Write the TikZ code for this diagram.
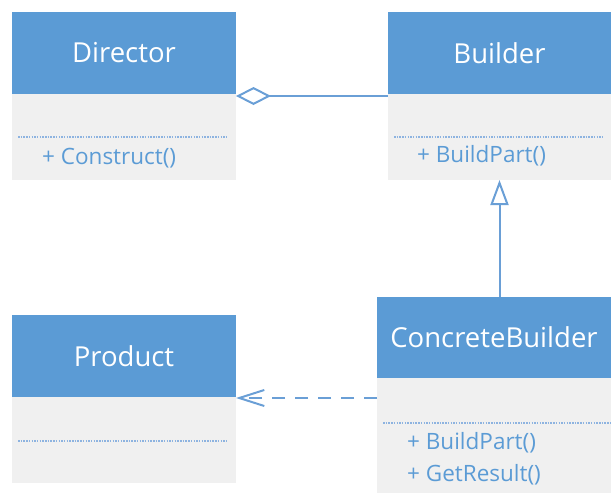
\documentclass[tikz,border=0pt]{standalone}
\usepackage{fontspec}
\setmainfont{Open Sans}
\usetikzlibrary{arrows.meta}
\definecolor{hdrblue}{HTML}{5B9BD5}
\definecolor{bodygray}{HTML}{F0F0F0}
\definecolor{lineblue}{HTML}{6A9FD6}
\definecolor{dotblue}{HTML}{8DB3E0}
\begin{document}
\begin{tikzpicture}[x=1pt,y=-1pt,
  hdr/.style={fill=hdrblue, text=white, inner sep=0pt, outer sep=0pt, anchor=north west, font=\fontsize{27.5}{32}\selectfont},
  bodyb/.style={fill=bodygray, inner sep=0pt, outer sep=0pt, anchor=north west},
  meth/.style={text=hdrblue, inner sep=0pt, anchor=west, font=\fontsize{22.5}{26}\selectfont},
  sep/.style={draw=dotblue, line width=1.5pt, dash pattern=on 1.5pt off 1.2pt},
  conn/.style={draw=lineblue, line width=2pt},
]
\useasboundingbox (0,0) rectangle (611,493);
% Director
\node[hdr, minimum width=224pt, minimum height=82pt] (dirH) at (12,12) {Director};
\node[bodyb, minimum width=224pt, minimum height=86pt] (dirB) at (dirH.south west) {};
\draw[sep] ([xshift=6pt,yshift=-43pt]dirB.north west) -- ([xshift=-8pt,yshift=-43pt]dirB.north east);
\node[meth] (dirM) at (42,158) {+ Construct()};
% Builder
\node[hdr, minimum width=223pt, minimum height=82pt] (bldH) at (388,12) {Builder};
\node[bodyb, minimum width=223pt, minimum height=86pt] (bldB) at (bldH.south west) {};
\draw[sep] ([xshift=6pt,yshift=-43pt]bldB.north west) -- ([xshift=-8pt,yshift=-43pt]bldB.north east);
\node[meth] (bldM) at (417,156) {+ BuildPart()};
% Product
\node[hdr, minimum width=224pt, minimum height=82pt] (prdH) at (12,315) {Product};
\node[bodyb, minimum width=224pt, minimum height=86pt] (prdB) at (prdH.south west) {};
\draw[sep] ([xshift=6pt,yshift=-44pt]prdB.north west) -- ([xshift=-8pt,yshift=-44pt]prdB.north east);
% ConcreteBuilder
\node[hdr, minimum width=234pt, minimum height=81pt] (cbH) at (377,297) {ConcreteBuilder};
\node[bodyb, minimum width=234pt, minimum height=115pt] (cbB) at (cbH.south west) {};
\draw[sep] ([xshift=6pt,yshift=-45pt]cbB.north west) -- ([yshift=-45pt]cbB.north east);
\node[meth] (cbM1) at (407,443) {+ BuildPart()};
\node[meth] (cbM2) at (407,475) {+ GetResult()};
% Connectors
\draw[conn, {Diamond[open, length=35pt, width=18pt, line width=2pt]}-] ([yshift=-2pt]dirH.south east) -- ([yshift=-2pt]bldH.south west);
\draw[conn, -{Triangle[open, length=25pt, width=18pt, line width=2pt]}] (cbH.north -| bldB.south) -- (bldB.south);
\coordinate (depS) at ([yshift=-20pt]cbB.north west);
\draw[conn, dash pattern=on 13pt off 10pt, -{Straight Barb[length=25pt, width=16pt, line width=2pt]}] (depS) -- (depS -| prdB.east);
\end{tikzpicture}
\end{document}
